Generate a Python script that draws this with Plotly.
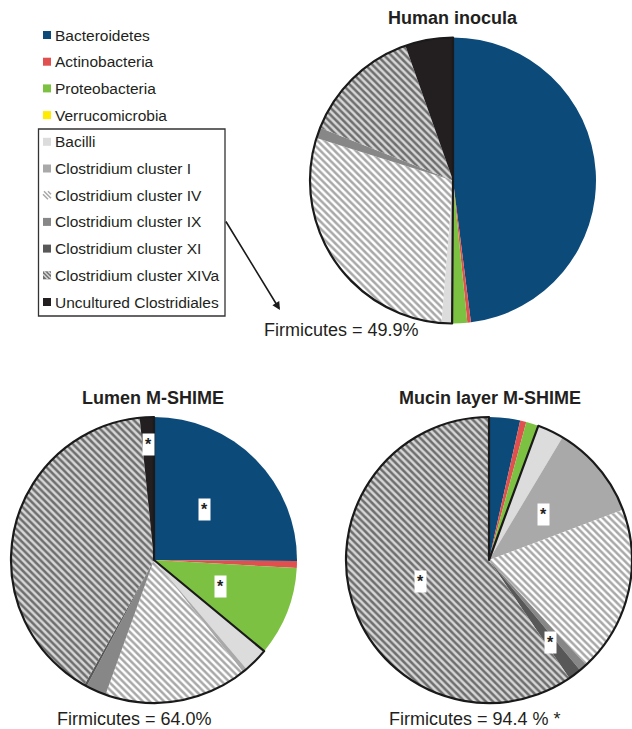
import plotly.graph_objects as go
import math

# ---------------- data ----------------
categories = ["Bacteroidetes", "Actinobacteria", "Proteobacteria", "Verrucomicrobia",
              "Bacilli", "Clostridium cluster I", "Clostridium cluster IV",
              "Clostridium cluster IX", "Clostridium cluster XI",
              "Clostridium cluster XIVa", "Uncultured Clostridiales"]
firmicutes_flags = [False, False, False, False, True, True, True, True, True, True, True]

human_inocula = [48.0, 0.4, 1.7, 0.0, 1.2, 0.0, 28.5, 1.2, 0.0, 13.6, 5.4]
lumen_mshime = [25.1, 0.8, 10.1, 0.0, 2.8, 0.5, 16.2, 2.3, 0.3, 40.3, 1.6]
mucin_mshime = [3.5, 0.7, 1.4, 0.0, 3.0, 10.7, 18.8, 0.9, 1.5, 59.5, 0.0]

panel_titles = ["Human inocula", "Lumen M-SHIME", "Mucin layer M-SHIME"]
firmicutes_texts = ["Firmicutes = 49.9%", "Firmicutes = 64.0%", "Firmicutes = 94.4 % *"]
significant = [[], ["Bacteroidetes", "Proteobacteria", "Uncultured Clostridiales"],
               ["Clostridium cluster I", "Clostridium cluster XI", "Clostridium cluster XIVa"]]

# ---------------- styles ----------------
W, H = 632, 729
FONT = "Liberation Sans, Arial, sans-serif"
TXT = "#231F20"
colors = ["#0C4A7A", "#E0504F", "#7DC142", "#FFEB00", "#DCDCDC", "#A9A9A9",
          "#FFFFFF", "#878787", "#585858", "#6E6E6E", "#231F20"]
pat_shape = ["", "", "", "", "", "", "\\", "", "", "\\", ""]
pat_fg = ["#000"] * 6 + ["#A8A8A8", "#000", "#000", "#D6D6D6", "#000"]
pat_bg = list(colors)

# pie geometry (pixel centre, radius)
pies = [dict(cx=453, cy=180.5, r=143), dict(cx=154, cy=560, r=143), dict(cx=489, cy=560, r=143)]
star_radius = {"Uncultured Clostridiales": 0.81, "Clostridium cluster XI": 0.72}


def px(x):
    return x / W


def py(y):
    return 1 - y / H


fig = go.Figure()
datasets = [human_inocula, lumen_mshime, mucin_mshime]
for k, (vals, g) in enumerate(zip(datasets, pies)):
    dom = dict(x=[px(g["cx"] - g["r"]), px(g["cx"] + g["r"])],
               y=[py(g["cy"] + g["r"]), py(g["cy"] - g["r"])])
    fig.add_trace(go.Pie(
        labels=categories, values=vals, sort=False, direction="clockwise", rotation=0,
        domain=dom, textinfo="none", showlegend=False,
        marker=dict(colors=colors, line=dict(width=0),
                    pattern=dict(shape=pat_shape, fgcolor=pat_fg, bgcolor=pat_bg,
                                 size=5, solidity=0.5, fillmode="replace")),
    ))
    firm = sum(v for v, f in zip(vals, firmicutes_flags) if f)
    non = sum(v for v, f in zip(vals, firmicutes_flags) if not f)
    fig.add_trace(go.Pie(
        labels=["Other phyla", "Firmicutes"], values=[non, firm], sort=False,
        direction="clockwise", rotation=0, domain=dom, textinfo="none", showlegend=False,
        hoverinfo="skip",
        marker=dict(colors=["rgba(0,0,0,0)", "rgba(0,0,0,0)"],
                    line=dict(color=["rgba(0,0,0,0)", "#1a1a1a"], width=[0, 2.2])),
    ))
    # significance stars, placed at slice mid-angles
    total = sum(vals)
    cum = 0
    for lab, v in zip(categories, vals):
        if lab in significant[k]:
            mid = (cum + v / 2) / total * 2 * math.pi
            rf = star_radius.get(lab, 0.5)
            sx = g["cx"] + rf * g["r"] * math.sin(mid)
            sy = g["cy"] - rf * g["r"] * math.cos(mid)
            fig.add_annotation(x=px(sx), y=py(sy), xref="paper", yref="paper", text="<b>*</b>",
                               xanchor="center", yanchor="middle",
                               showarrow=False, bgcolor="white", borderpad=2,
                               font=dict(family=FONT, size=16, color=TXT))
        cum += v

# titles
title_pos = [(453, 18), (153, 398), (490, 398)]
for t, (x, y) in zip(panel_titles, title_pos):
    fig.add_annotation(x=px(x), y=py(y), xref="paper", yref="paper", text="<b>%s</b>" % t,
                       xanchor="center", yanchor="middle",
                       showarrow=False, font=dict(family=FONT, size=18, color=TXT))
# firmicutes totals
firm_pos = [(341, 330), (134, 719), (475, 719)]
for t, (x, y) in zip(firmicutes_texts, firm_pos):
    fig.add_annotation(x=px(x), y=py(y), xref="paper", yref="paper", text=t,
                       xanchor="center", yanchor="middle",
                       showarrow=False, font=dict(family=FONT, size=18, color=TXT))

# ---------------- manual legend ----------------
LY0, LSTEP = 35, 26.7
shapes = []
for i, (lab, c) in enumerate(zip(categories, colors)):
    yc = LY0 + i * LSTEP
    x0, x1, y0, y1 = 43, 51, yc - 4, yc + 4
    if pat_shape[i]:
        shapes.append(dict(type="rect", xref="paper", yref="paper", x0=px(x0), x1=px(x1),
                           y0=py(y1), y1=py(y0), fillcolor=pat_bg[i], line=dict(width=0)))
        for off in (-3, 1, 5):
            shapes.append(dict(type="line", xref="paper", yref="paper",
                               x0=px(max(x0, x0 + off)), y0=py(y0 + max(0, -off)),
                               x1=px(min(x1, x1 + off)), y1=py(y1 - max(0, off)),
                               line=dict(color=pat_fg[i], width=1.5)))
    else:
        shapes.append(dict(type="rect", xref="paper", yref="paper", x0=px(x0), x1=px(x1),
                           y0=py(y1), y1=py(y0), fillcolor=c, line=dict(width=0)))
    fig.add_annotation(x=px(53), y=py(yc), xref="paper", yref="paper", text=lab,
                       xanchor="left", yanchor="middle", showarrow=False,
                       font=dict(family=FONT, size=15.5, color=TXT))

# box around Firmicutes legend entries
shapes.append(dict(type="rect", xref="paper", yref="paper", x0=px(38.5), x1=px(225),
                   y0=py(316), y1=py(129), line=dict(color="#333", width=1.3),
                   fillcolor="rgba(0,0,0,0)"))
# arrow from legend box to human inocula pie
fig.add_annotation(x=px(280), y=py(310), xref="paper", yref="paper", ax=-55, ay=-90,
                   text="", showarrow=True, arrowhead=2, arrowsize=1, arrowwidth=1.6,
                   arrowcolor="#1a1a1a")

fig.update_layout(width=W, height=H, margin=dict(l=0, r=0, t=0, b=0),
                  paper_bgcolor="white", plot_bgcolor="white", shapes=shapes,
                  font=dict(family=FONT, color=TXT))
fig.write_html("out.html")
